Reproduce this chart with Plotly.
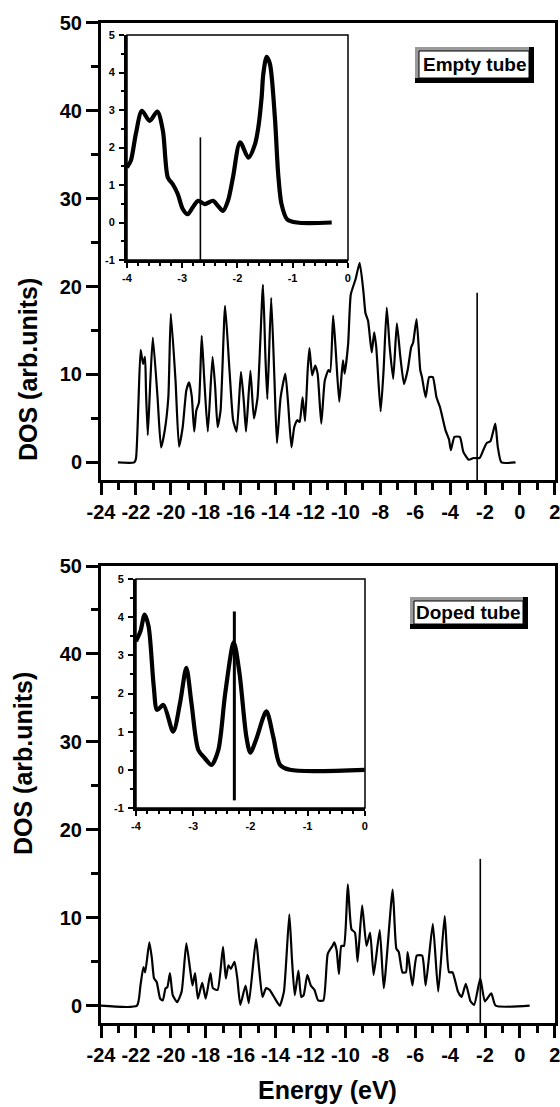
import plotly.graph_objects as go

# ---------------- data ----------------
# Main panel, empty tube
E_empty = [-23.03, -22.10, -22.00, -21.86, -21.73, -21.59, -21.48, -21.42, -21.32, -21.18,
           -21.03, -20.76, -20.56, -20.35, -20.14, -20.00, -19.73, -19.53, -19.32, -19.11,
           -18.95, -18.80, -18.66, -18.54, -18.39, -18.23, -18.08, -17.88, -17.61, -17.46,
           -17.32, -17.15, -16.89, -16.64, -16.43, -16.23, -15.98, -15.81, -15.69, -15.44,
           -15.24, -15.03, -14.72, -14.58, -14.47, -14.25, -14.06, -13.92, -13.71, -13.44,
           -13.28, -13.09, -12.93, -12.76, -12.62, -12.45, -12.31, -12.16, -12.06, -11.90,
           -11.73, -11.59, -11.38, -11.18, -10.97, -10.87, -10.70, -10.56, -10.35, -10.14,
           -10.04, -9.84, -9.69, -9.42, -9.18, -8.97, -8.85, -8.70, -8.49, -8.35,
           -8.23, -7.98, -7.81, -7.63, -7.46, -7.26, -7.05, -6.85, -6.64, -6.43,
           -6.23, -6.12, -5.92, -5.71, -5.61, -5.40, -5.20, -4.99, -4.78, -4.58,
           -4.27, -4.06, -3.96, -3.75, -3.44, -3.24, -2.93, -2.66, -2.31, -2.10,
           -1.90, -1.69, -1.41, -1.27, -1.06, -0.25]
DOS_empty = [0.0, 0.0, 0.4, 6.5, 12.8, 11.2, 12.0, 8.0, 3.1, 9.0,
             14.2, 7.4, 1.7, 3.6, 7.5, 16.9, 9.3, 1.8, 4.0, 8.2,
             9.1, 7.5, 3.5, 5.9, 6.8, 14.4, 9.3, 3.5, 12.0, 8.6,
             4.0, 5.9, 17.8, 10.5, 4.8, 3.5, 10.3, 6.7, 3.5, 10.4,
             5.0, 7.4, 20.2, 12.0, 7.2, 18.7, 9.3, 2.2, 7.4, 10.1,
             6.7, 1.7, 4.0, 4.8, 4.6, 7.4, 4.7, 10.5, 13.0, 9.9,
             11.0, 10.1, 4.4, 9.3, 10.5, 10.3, 16.7, 13.0, 6.9, 11.6,
             10.1, 13.5, 19.1, 20.8, 22.7, 19.5, 17.0, 16.1, 12.5, 14.8,
             13.1, 5.8, 10.5, 17.6, 13.1, 9.5, 15.8, 12.0, 8.9, 10.5,
             13.1, 13.6, 16.3, 10.5, 9.7, 7.4, 9.7, 9.7, 7.4, 6.3,
             3.7, 2.6, 1.4, 2.9, 2.9, 1.2, 0.3, 0.5, 0.5, 1.4,
             2.2, 2.4, 4.4, 1.8, 0.0, 0.0]

# Main panel, doped tube
E_doped = [-24.00, -21.94, -21.74, -21.57, -21.47, -21.23, -21.08, -20.96, -20.81, -20.61,
           -20.46, -20.30, -20.20, -20.05, -19.89, -19.64, -19.38, -19.11, -18.90, -18.76,
           -18.61, -18.45, -18.20, -18.00, -17.73, -17.59, -17.32, -17.01, -16.85, -16.70,
           -16.56, -16.35, -16.19, -16.02, -15.72, -15.53, -15.12, -14.96, -14.75, -14.54,
           -14.34, -14.03, -13.76, -13.52, -13.21, -13.06, -12.90, -12.69, -12.53, -12.39,
           -12.18, -11.98, -11.77, -11.56, -11.26, -11.01, -10.74, -10.64, -10.50, -10.37,
           -10.23, -10.08, -9.86, -9.65, -9.45, -9.30, -9.04, -8.79, -8.58, -8.38,
           -8.03, -7.80, -7.29, -7.08, -6.94, -6.73, -6.53, -6.43, -6.16, -5.91,
           -5.60, -5.40, -4.99, -4.68, -4.31, -4.06, -3.86, -3.55, -3.34, -3.10,
           -2.83, -2.62, -2.27, -2.01, -1.64, -1.39, 0.56]
DOS_doped = [0.0, 0.0, 2.3, 4.4, 3.8, 7.2, 5.3, 3.1, 2.7, 0.8,
             0.6, 2.0, 2.1, 3.7, 1.2, 0.4, 1.6, 7.1, 4.2, 2.3,
             3.7, 0.8, 2.6, 0.8, 3.7, 2.0, 1.8, 6.7, 3.1, 4.6,
             4.2, 5.0, 3.1, 0.1, 2.3, 0.3, 7.6, 4.6, 1.0, 2.0,
             1.8, 0.8, 0.0, 1.6, 10.4, 5.3, 1.2, 4.0, 1.0, 1.2,
             3.5, 2.3, 1.8, 0.6, 0.6, 5.9, 6.8, 7.2, 6.3, 3.6,
             6.8, 6.8, 13.8, 8.7, 8.3, 5.0, 11.4, 6.8, 8.3, 3.5,
             8.6, 2.0, 13.2, 6.5, 6.1, 3.8, 3.8, 6.1, 2.3, 5.7,
             5.7, 2.3, 9.3, 1.6, 10.2, 3.8, 3.8, 1.6, 1.0, 2.5,
             0.5, 0.1, 3.1, 0.5, 1.4, 0.0, 0.0]

# Insets (zoom on -4 .. 0 eV)
EI_empty = [-4.00, -3.93, -3.84, -3.73, -3.59, -3.45, -3.35, -3.26, -3.17, -3.08,
            -2.99, -2.90, -2.81, -2.71, -2.59, -2.44, -2.35, -2.26, -2.17, -2.08,
            -1.95, -1.80, -1.68, -1.62, -1.56, -1.53, -1.47, -1.41, -1.32, -1.26,
            -1.20, -1.10, -0.92, -0.29]
DI_empty = [1.47, 1.65, 2.36, 2.98, 2.71, 2.96, 2.45, 1.20, 1.02, 0.76,
            0.36, 0.22, 0.40, 0.58, 0.49, 0.58, 0.44, 0.31, 0.58, 1.20,
            2.14, 1.73, 2.09, 2.54, 3.34, 3.96, 4.42, 4.23, 2.80, 1.29,
            0.49, 0.09, 0.0, 0.0]

EI_doped = [-4.00, -3.92, -3.85, -3.78, -3.69, -3.63, -3.52, -3.35, -3.23, -3.12,
            -3.03, -2.91, -2.80, -2.68, -2.56, -2.44, -2.29, -2.19, -2.07, -2.00,
            -1.90, -1.72, -1.60, -1.48, -1.31, 0.00]
DI_doped = [3.37, 3.64, 4.07, 3.76, 2.19, 1.57, 1.70, 1.00, 1.75, 2.67,
            1.75, 0.52, 0.31, 0.13, 0.52, 2.00, 3.34, 2.53, 0.87, 0.45,
            0.79, 1.53, 0.87, 0.13, 0.0, 0.0]

# Fermi level markers (x position, [bottom, top])
EF_empty_main = -2.45
EF_empty_main_y = [-2, 19.3]
EF_doped_main = -2.27
EF_doped_main_y = [-2, 16.7]
EF_empty_inset = -2.67
EF_empty_inset_y = [-1, 2.27]
EF_doped_inset = -2.28
EF_doped_inset_y = [-0.8, 4.15]

panel_labels = ["Empty tube", "Doped tube"]

# Tick labels (hyphen minus as in the original)
main_xtick_vals = [-24, -22, -20, -18, -16, -14, -12, -10, -8, -6, -4, -2, 0, 2]
main_xtick_text = ["-24", "-22", "-20", "-18", "-16", "-14", "-12", "-10", "-8", "-6",
                   "-4", "-2", "0", "2"]
main_ytick_vals = [0, 10, 20, 30, 40, 50]
main_ytick_text = ["0", "10", "20", "30", "40", "50"]
inset_xtick_vals = [-4, -3, -2, -1, 0]
inset_xtick_text = ["-4", "-3", "-2", "-1", "0"]
inset_ytick_vals = [-1, 0, 1, 2, 3, 4, 5]
inset_ytick_text = ["-1", "0", "1", "2", "3", "4", "5"]

# ---------------- figure ----------------
W, H = 560, 1107


def px(x):
    return x / W


def py(y):
    return 1 - y / H


fig = go.Figure()

fig.add_trace(go.Scatter(x=E_empty, y=DOS_empty, mode="lines", xaxis="x", yaxis="y",
                         line=dict(color="black", width=2.2, shape="spline", smoothing=0.5)))
fig.add_trace(go.Scatter(x=[EF_empty_main, EF_empty_main], y=EF_empty_main_y, mode="lines",
                         xaxis="x", yaxis="y", line=dict(color="black", width=1.6)))
fig.add_trace(go.Scatter(x=E_doped, y=DOS_doped, mode="lines", xaxis="x2", yaxis="y2",
                         line=dict(color="black", width=2.2, shape="spline", smoothing=0.5)))
fig.add_trace(go.Scatter(x=[EF_doped_main, EF_doped_main], y=EF_doped_main_y, mode="lines",
                         xaxis="x2", yaxis="y2", line=dict(color="black", width=1.6)))
fig.add_trace(go.Scatter(x=EI_empty, y=DI_empty, mode="lines", xaxis="x3", yaxis="y3",
                         line=dict(color="black", width=4.2, shape="spline", smoothing=0.8)))
fig.add_trace(go.Scatter(x=[EF_empty_inset, EF_empty_inset], y=EF_empty_inset_y, mode="lines",
                         xaxis="x3", yaxis="y3", line=dict(color="black", width=1.6)))
fig.add_trace(go.Scatter(x=EI_doped, y=DI_doped, mode="lines", xaxis="x4", yaxis="y4",
                         line=dict(color="black", width=4.2, shape="spline", smoothing=0.8)))
fig.add_trace(go.Scatter(x=[EF_doped_inset, EF_doped_inset], y=EF_doped_inset_y, mode="lines",
                         xaxis="x4", yaxis="y4", line=dict(color="black", width=3)))

FONT = "Liberation Sans, Arial, sans-serif"
main_tick = dict(family=FONT, size=20, color="black", weight="bold")
inset_tick = dict(family=FONT, size=11, color="black", weight="bold")

main_x = dict(range=[-24, 2.01], tickmode="array", tickvals=main_xtick_vals,
              ticktext=main_xtick_text, tickangle=0, automargin=False,
              ticklabeloverflow="allow",
              showline=True, linewidth=3, linecolor="black",
              mirror=True, ticks="outside", ticklen=12, tickwidth=3, tickcolor="black",
              tickfont=main_tick, showgrid=False, zeroline=False,
              minor=dict(tickmode="linear", dtick=1, tick0=0, ticks="outside", ticklen=7,
                         tickwidth=3, tickcolor="black", showgrid=False),
              domain=[px(101), px(555)])
main_y = dict(range=[-2, 50], tickmode="array", tickvals=main_ytick_vals,
              ticktext=main_ytick_text, automargin=False, ticklabeloverflow="allow",
              showline=True, linewidth=3, linecolor="black",
              mirror=True, ticks="outside", ticklen=12, tickwidth=3, tickcolor="black",
              tickfont=main_tick, showgrid=False, zeroline=False,
              minor=dict(tickmode="linear", dtick=5, tick0=0, ticks="outside", ticklen=7,
                         tickwidth=3, tickcolor="black", showgrid=False))
inset_x = dict(range=[-4, 0.005], tickmode="array", tickvals=inset_xtick_vals,
               ticktext=inset_xtick_text, tickangle=0, automargin=False,
               ticklabeloverflow="allow",
               showline=True, linewidth=3, linecolor="black",
               mirror=False, ticks="outside", ticklen=5, tickwidth=2, tickcolor="black",
               tickfont=inset_tick, showgrid=False, zeroline=False, ticklabelstandoff=1,
               minor=dict(tickmode="linear", dtick=0.2, tick0=0, ticks="outside", ticklen=3,
                          tickwidth=2, tickcolor="black", showgrid=False))
inset_y = dict(range=[-1, 5], tickmode="array", tickvals=inset_ytick_vals,
               ticktext=inset_ytick_text, automargin=False, ticklabeloverflow="allow",
               showline=True, linewidth=3, linecolor="black",
               mirror=False, ticks="outside", ticklen=5, tickwidth=2, tickcolor="black",
               tickfont=inset_tick, showgrid=False, zeroline=False, ticklabelstandoff=2,
               minor=dict(tickmode="linear", dtick=0.5, tick0=0, ticks="outside", ticklen=3,
                          tickwidth=2, tickcolor="black", showgrid=False))

fig.update_layout(
    width=W, height=H, margin=dict(l=0, r=0, t=0, b=0, pad=0, autoexpand=False),
    paper_bgcolor="white", plot_bgcolor="rgba(0,0,0,0)", showlegend=False,
    xaxis=dict(main_x, anchor="y"),
    yaxis=dict(main_y, anchor="x", domain=[py(480), py(22.7)]),
    xaxis2=dict(main_x, anchor="y2"),
    yaxis2=dict(main_y, anchor="x2", domain=[py(1023.3), py(566)]),
    xaxis3=dict(inset_x, anchor="y3", domain=[px(127), px(348)]),
    yaxis3=dict(inset_y, anchor="x3", domain=[py(260), py(35)]),
    xaxis4=dict(inset_x, anchor="y4", domain=[px(136), px(365)]),
    yaxis4=dict(inset_y, anchor="x4", domain=[py(808), py(579)]),
)

shapes = []
# thin top/right borders of insets
for (x0, x1, y0, y1) in [(127, 348, 35, 260), (136, 365, 579, 808)]:
    shapes.append(dict(type="rect", xref="paper", yref="paper", x0=px(x0), x1=px(x1),
                       y0=py(y1), y1=py(y0), line=dict(color="black", width=1.5),
                       fillcolor="rgba(0,0,0,0)"))

# label boxes with shadow
boxes = [(415, 534, 47, 83), (410, 528, 597, 629)]
for (x0, x1, y0, y1) in boxes:
    shapes.append(dict(type="rect", xref="paper", yref="paper", x0=px(x0), x1=px(x1),
                       y0=py(y1), y1=py(y0), line=dict(width=0), fillcolor="black"))
    shapes.append(dict(type="rect", xref="paper", yref="paper", x0=px(x0), x1=px(x1 - 5),
                       y0=py(y1 - 5), y1=py(y0), line=dict(width=0), fillcolor="#9a9a9a"))
    shapes.append(dict(type="rect", xref="paper", yref="paper", x0=px(x0 + 4), x1=px(x1 - 5),
                       y0=py(y1 - 5), y1=py(y0 + 4), line=dict(color="black", width=1),
                       fillcolor="white"))
fig.update_layout(shapes=shapes)

annotations = []
for lab, (x0, x1, y0, y1) in zip(panel_labels, boxes):
    annotations.append(dict(text=lab, xref="paper", yref="paper",
                            x=px((x0 + 4 + x1 - 5) / 2), y=py((y0 + 4 + y1 - 5) / 2),
                            xanchor="center", yanchor="middle", showarrow=False,
                            font=dict(family=FONT, size=19, color="black", weight="bold")))
title_font = dict(family=FONT, size=25, color="black", weight="bold")
annotations.append(dict(text="DOS (arb.units)", xref="paper", yref="paper", x=px(28), y=py(370),
                        textangle=-90, showarrow=False, xanchor="center", yanchor="middle",
                        font=title_font))
annotations.append(dict(text="DOS (arb.units)", xref="paper", yref="paper", x=px(23), y=py(764),
                        textangle=-90, showarrow=False, xanchor="center", yanchor="middle",
                        font=title_font))
annotations.append(dict(text="Energy (eV)", xref="paper", yref="paper", x=px(327), y=py(1090),
                        showarrow=False, xanchor="center", yanchor="middle", font=title_font))
fig.update_layout(annotations=annotations)

fig.write_html("out.html")
